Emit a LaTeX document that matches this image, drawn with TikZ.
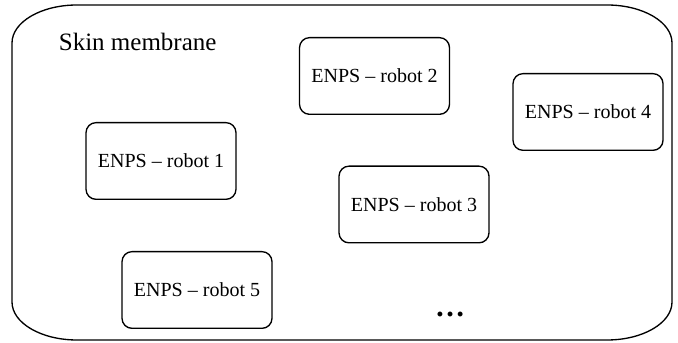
\documentclass[tikz,border=0pt]{standalone}
\usepackage{fontspec}
\setmainfont{Liberation Serif}
\usepackage{tikz}

\begin{document}
\begin{tikzpicture}[x=0.6pt, y=0.6pt,
		robot/.style={draw, line width=0.8pt, rounded corners=6pt, minimum width=90pt, minimum height=46pt, font=\fontsize{12}{14}\selectfont},
		membrane/.style={line width=0.8pt}]
			%%%%% START %%%%%
			
			\useasboundingbox (0, 0) rectangle (678, 343);
			
			% skin membrane
			\draw[membrane] (12, 300) arc[start angle=180, end angle=90, x radius=65, y radius=38]
				-- (607, 338) arc[start angle=90, end angle=0, x radius=65, y radius=38]
				-- (672, 41) arc[start angle=0, end angle=-90, x radius=65, y radius=38]
				-- (77, 3) arc[start angle=-90, end angle=-180, x radius=65, y radius=38]
				-- cycle;
			\node[anchor=west, font=\fontsize{15}{17}\selectfont] (skin) at (53, 301) {Skin membrane};
			
			% robots
			\node[robot] (r1) at (161, 182) {ENPS \textendash{} robot 1};
			\node[robot] (r2) at (374.5, 267) {ENPS \textendash{} robot 2};
			\node[robot] (r3) at (414, 138.5) {\raisebox{-5pt}{ENPS \textendash{} robot 3}};
			\node[robot] (r4) at (588, 231) {ENPS \textendash{} robot 4};
			\node[robot] (r5) at (197, 53) {ENPS \textendash{} robot 5};
			
			\node[font=\fontsize{18}{20}\selectfont\bfseries] (more) at (450, 29) {\dots};
			
			%%%%% END %%%%%
		\end{tikzpicture}
\end{document}
